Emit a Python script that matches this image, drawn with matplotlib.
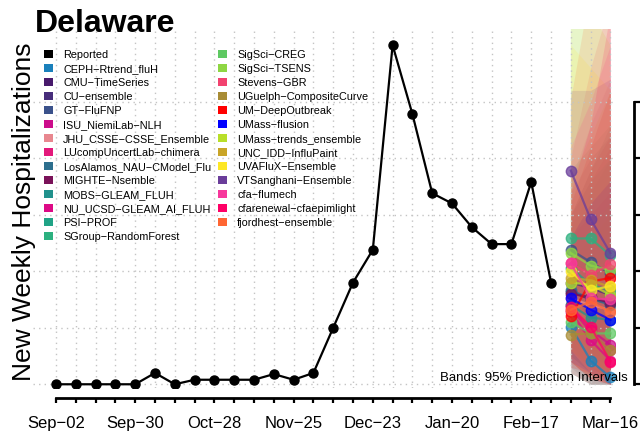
import matplotlib
matplotlib.use("Agg")
import matplotlib.pyplot as plt
from matplotlib.patches import Rectangle

plt.rcParams['font.family'] = ['Liberation Sans', 'DejaVu Sans']

# weekly dates, Sep-02 .. Mar-16 (week index 0..28)
week_labels = ["Sep-02", "Sep-30", "Oct-28", "Nov-25", "Dec-23", "Jan-20", "Feb-17", "Mar-16"]
label_weeks = [0, 4, 8, 12, 16, 20, 24, 28]

# reported weekly hospitalizations (weeks 0..25)
reported_weeks = list(range(26))
reported = [0, 0, 0, 0, 0, 10, 0, 4, 4, 4, 4, 9, 4, 10, 50, 90, 119,
            300, 239, 169, 160, 139, 124, 124, 179, 90]

# forecast weeks
fc_weeks = [26, 27, 28]

models = ["CEPH-Rtrend_fluH", "CMU-TimeSeries", "CU-ensemble", "GT-FluFNP",
          "ISU_NiemiLab-NLH", "JHU_CSSE-CSSE_Ensemble", "LUcompUncertLab-chimera",
          "LosAlamos_NAU-CModel_Flu", "MIGHTE-Nsemble", "MOBS-GLEAM_FLUH",
          "NU_UCSD-GLEAM_AI_FLUH", "PSI-PROF", "SGroup-RandomForest",
          "SigSci-CREG", "SigSci-TSENS", "Stevens-GBR", "UGuelph-CompositeCurve",
          "UM-DeepOutbreak", "UMass-flusion", "UMass-trends_ensemble",
          "UNC_IDD-InfluPaint", "UVAFluX-Ensemble", "VTSanghani-Ensemble",
          "cfa-flumech", "cfarenewal-cfaepimlight", "fjordhest-ensemble"]

colors = ["#1a80bb", "#481a6c", "#472d7b", "#3b528b", "#cc0c8b", "#e8878f",
          "#e3197b", "#2d6f8e", "#7a1259", "#21918c", "#dd0a86", "#20a386",
          "#2cb07f", "#5ec962", "#8ed643", "#f2426f", "#a88c35", "#ff0000",
          "#0000ff", "#b8df2a", "#c9a528", "#fde725", "#6a3d9a", "#f7379c",
          "#ff0066", "#ff6633"]

median = [[51, 21, 6], [82, 75, 72], [90, 85, 79], [119, 108, 98],
          [66, 48, 35], [76, 70, 66], [70, 45, 30], [83, 76, 70],
          [80, 77, 72], [70, 59, 57], [64, 39, 21], [103, 88, 83],
          [129, 129, 114], [55, 45, 45], [116, 105, 101], [107, 97, 106],
          [44, 45, 30], [60, 91, 94], [76, 66, 57], [90, 88, 79],
          [94, 92, 86], [100, 83, 87], [189, 146, 116], [107, 76, 75],
          [68, 51, 20], [66, 73, 64]]

lower = [[10, 0, 0], [25, 10, 0], [35, 15, 5], [50, 30, 15],
         [20, 5, 0], [20, 5, 0], [20, 5, 0], [15, 0, 0],
         [30, 15, 5], [25, 10, 5], [20, 5, 0], [40, 25, 15],
         [60, 40, 25], [10, 0, 0], [40, 20, 10], [40, 20, 10],
         [10, 0, 0], [15, 10, 5], [20, 10, 0], [20, 5, 0],
         [30, 15, 5], [30, 10, 0], [90, 50, 25], [30, 10, 0],
         [10, 0, 0], [20, 5, 0]]

upper = [[100, 110, 120], [130, 160, 180], [140, 170, 200], [170, 200, 220],
         [130, 150, 170], [180, 230, 270], [150, 180, 210], [150, 190, 230],
         [150, 190, 220], [120, 140, 160], [130, 150, 170], [150, 180, 200],
         [190, 210, 230], [120, 140, 160], [320, 400, 350], [200, 280, 340],
         [110, 130, 150], [160, 210, 260], [130, 160, 180], [400, 330, 300],
         [180, 220, 260], [300, 280, 260], [260, 260, 270], [210, 250, 300],
         [170, 230, 330], [250, 350, 420]]

y_ticks = [0, 50, 100, 150, 200, 250]

W, H = 640, 436
fig = plt.figure(figsize=(6.4, 4.36), dpi=100)
ax = fig.add_axes([33 / W, (H - 388) / H, (615 - 33) / W, (388 - 29) / H])
ax.set_xlim(-1.16, 28.23)
ax.set_ylim(-3.3, 314.3)

# grid
for w in range(29):
    ax.axvline(w, color="#c4c4c4", lw=1, ls=(0, (1, 3)), zorder=2)
for t in y_ticks:
    ax.axhline(t, color="#c4c4c4", lw=1, ls=(0, (1, 3)), zorder=2)

# prediction bands
for lo, hi, c in zip(lower, upper, colors):
    ax.fill_between(fc_weeks, lo, hi, color=c, alpha=0.14, lw=0, zorder=1)

# reported
ax.plot(reported_weeks, reported, color="black", lw=1.6, marker="o",
        markersize=6.5, zorder=4)

# forecasts
for med, c in zip(median, colors):
    ax.plot(fc_weeks, med, color=c, lw=1.6, marker="o", markersize=7.5,
            alpha=0.75, zorder=5)

ax.text(1.0227, 0.01, "Bands: 95% Prediction Intervals", transform=ax.transAxes,
        ha="right", va="bottom", fontsize=9.5, zorder=6)

# axes styling
for s in ["top", "left"]:
    ax.spines[s].set_visible(False)
ax.spines["bottom"].set_position(("outward", 7.4))
ax.spines["bottom"].set_bounds(0, 28)
ax.spines["bottom"].set_linewidth(2)
ax.spines["right"].set_position(("outward", 13.7))
ax.spines["right"].set_bounds(0, 250)
ax.spines["right"].set_linewidth(2)
ax.set_xticks(range(29))
ax.set_xticklabels([week_labels[label_weeks.index(w)].replace("-", "\u2212")
                    if w in label_weeks else "" for w in range(29)])
ax.tick_params(axis="x", length=3.5, width=1.6, labelsize=12, pad=9)
ax.yaxis.tick_right()
ax.set_yticks(y_ticks)
ax.tick_params(axis="y", length=5, width=1.6, labelright=False)

# title and y label
fig.text(35 / W, 1 - 32 / H, "Delaware", fontsize=23, fontweight="bold",
         ha="left", va="baseline")
fig.text(31 / W, 1 - 212 / H, "New Weekly Hospitalizations", fontsize=19,
         rotation=90, rotation_mode="anchor", ha="center", va="baseline")

# legend (two columns)
entries = [("Reported", "black")] + list(zip(models, colors))
for i, (name, c) in enumerate(entries):
    col, row = (0, i) if i < 14 else (1, i - 14)
    x0 = 44 if col == 0 else 218
    yc = 54.5 + row * 13.94
    fig.add_artist(Rectangle((x0 / W, 1 - (yc + 4) / H), 9 / W, 8 / H,
                             transform=fig.transFigure, color=c, lw=0))
    fig.text((x0 + 19) / W, 1 - yc / H, name.replace("-", "\u2212"),
             fontsize=7.8, ha="left", va="center_baseline")

fig.savefig("out.png", dpi=100)
